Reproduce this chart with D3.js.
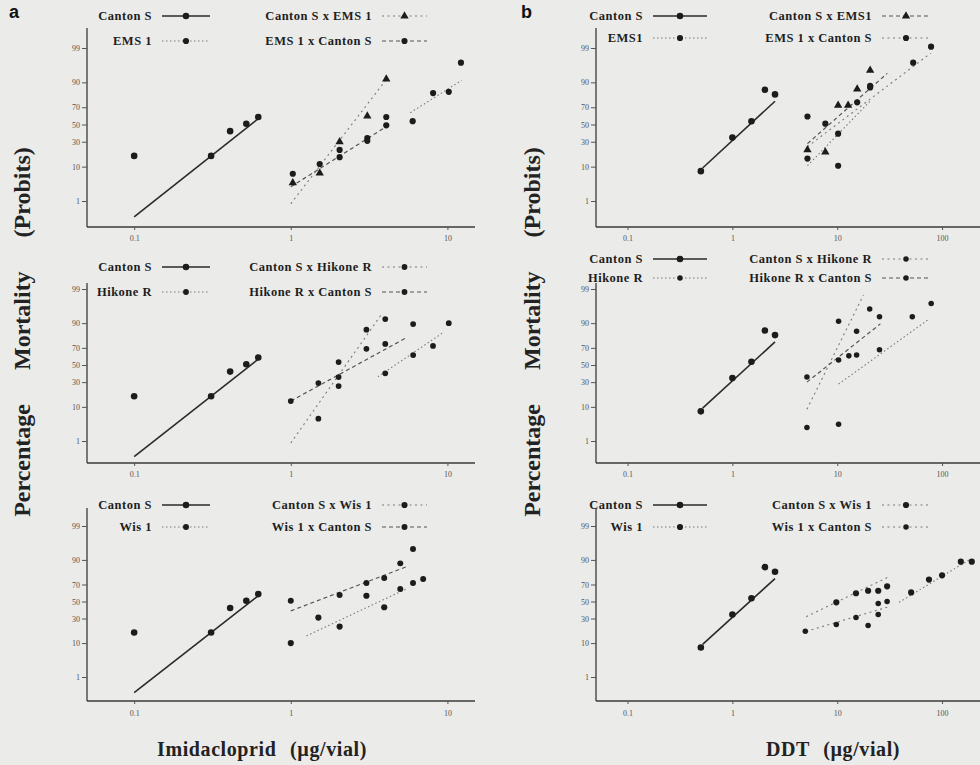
<!DOCTYPE html>
<html>
<head>
<meta charset="utf-8">
<script src="https://cdn.jsdelivr.net/npm/d3@7"></script>
<style>
  html, body { margin: 0; padding: 0; background: #ebebe9; }
  svg { display: block; }
</style>
</head>
<body>
<svg id="fig" width="980" height="765"></svg>
<script>
// ---- tick values ----
const yTickValues = [1, 10, 30, 50, 70, 90, 99];
const xTicksImi = [0.1, 1, 10];
const xTicksDdt = [0.1, 1, 10, 100];

// ---- Imidacloprid: dose (µg/vial), mortality (%) ----
const cantonImi = [[0.1, 17], [0.31, 17], [0.41, 42], [0.52, 51], [0.62, 59]];
const cantonImiFit = [[0.1, 0.25], [0.62, 57]];

const ems1Imi = [[6.0, 54], [8.1, 83], [10.2, 84], [12.2, 97]];
const ems1ImiFit = [[5.8, 64], [12.3, 91]];
const cantonEmsImi = [[1.03, 3.8], [1.53, 7], [2.05, 30], [3.08, 60], [4.07, 91.6]];
const cantonEmsImiFit = [[1.0, 0.8], [4.1, 91.7]];
const emsCantonImi = [[1.03, 6.7], [1.53, 11.5], [2.05, 22], [2.05, 16], [3.08, 34], [3.08, 31], [4.07, 59], [4.07, 49]];
const emsCantonImiFit = [[1.0, 2.9], [4.2, 49]];

const hikoneImi = [[2.02, 35.6], [4.01, 40], [6.04, 62], [8.09, 72], [10.2, 90]];
const hikoneImiFit = [[3.6, 36], [9.4, 84]];
const cantonHikImi = [[1.5, 5], [2.02, 26], [3.04, 86], [4.01, 92]];
const cantonHikImiFit = [[1.0, 0.85], [3.8, 94]];
const hikCantonImi = [[1.0, 13.5], [1.5, 29], [2.02, 53.6], [3.04, 69], [4.01, 74], [6.04, 89.5]];
const hikCantonImiFit = [[1.0, 13.5], [5.5, 80]];

const wisImi = [[5.0, 65], [6.03, 71.5], [7.0, 75.5]];
const wisImiFit = [[1.26, 14.5], [5.45, 65]];
const cantonWisImi = [[1.0, 10], [1.5, 31], [2.05, 22], [3.04, 57], [3.95, 43]];
const wisCantonImi = [[1.0, 51], [2.05, 58], [3.04, 71.5], [3.95, 76.5], [5.0, 88], [6.03, 94.7]];
const wisCantonImiFit = [[1.0, 38.6], [5.45, 85.7]];

// ---- DDT: dose (µg/vial), mortality (%) ----
const cantonDdt = [[0.5, 7.8], [1.0, 34.5], [1.52, 54], [2.04, 85.5], [2.55, 82]];
const cantonDdtFit = [[0.52, 9.3], [2.55, 76]];

const ems1Ddt = [[5.2, 15], [10.2, 10.5], [20.6, 87]];
const ems1DdtFit = [[5.2, 10.5], [21, 77]];
const cantonEmsDdt = [[5.2, 22], [7.7, 20], [10.2, 72], [12.7, 72], [15.5, 86], [20.6, 95]];
const cantonEmsDdtFit = [[5.2, 28], [30, 94]];
const emsCantonDdt = [[5.2, 59.6], [7.7, 51], [10.2, 39], [15.5, 75], [20.6, 88], [53, 97], [78.5, 99.1]];
const emsCantonDdtFit = [[5.2, 25], [78, 98.5]];

const hikoneDdt = [[10.3, 3.5], [25.3, 68], [52, 93], [78.7, 97]];
const hikoneDdtFit = [[10.3, 28], [73, 91.6]];
const cantonHikDdt = [[5.14, 2.8], [10.3, 91], [15.3, 85], [20.4, 95.7]];
const cantonHikDdtFit = [[5.14, 8.8], [17.8, 98.4]];
const hikCantonDdt = [[5.14, 35.6], [10.3, 56], [12.9, 61], [15.3, 62], [25.3, 93]];
const hikCantonDdtFit = [[5.14, 30], [25.8, 89.6]];

const wisDdt = [[50.7, 61], [75, 75], [100, 79], [151, 89], [192, 89]];
const wisDdtFit = [[38.9, 49], [181, 90]];
const cantonWisDdt = [[9.8, 49], [15.1, 60], [19.7, 63], [24.6, 63], [29.9, 68]];
const cantonWisDdtFit = [[5.06, 32], [30, 77]];
const wisCantonDdt = [[4.96, 17.9], [9.8, 24], [15.1, 31], [19.7, 23], [24.6, 34.5], [24.6, 47.6], [29.9, 50]];
const wisCantonDdtFit = [[5.06, 17.9], [30, 43]];

// ---- inverse normal CDF (Acklam) used for the probit axis ----
function normInv(p) {
  const a = [-3.969683028665376e+01, 2.209460984245205e+02, -2.759285104469687e+02, 1.383577518672690e+02, -3.066479806614716e+01, 2.506628277459239e+00];
  const b = [-5.447609879822406e+01, 1.615858368580409e+02, -1.556989798598866e+02, 6.680131188771972e+01, -1.328068155288572e+01];
  const c = [-7.784894002430293e-03, -3.223964580411365e-01, -2.400758277161838e+00, -2.549732539343734e+00, 4.374664141464968e+00, 2.938163982698783e+00];
  const d = [7.784695709041462e-03, 3.224671290700398e-01, 2.445134137142996e+00, 3.754408661907416e+00];
  const pl = 0.02425, ph = 1 - pl;
  let q, r;
  if (p < pl) {
    q = Math.sqrt(-2 * Math.log(p));
    return (((((c[0]*q+c[1])*q+c[2])*q+c[3])*q+c[4])*q+c[5]) / ((((d[0]*q+d[1])*q+d[2])*q+d[3])*q+1);
  }
  if (p <= ph) {
    q = p - 0.5; r = q * q;
    return (((((a[0]*r+a[1])*r+a[2])*r+a[3])*r+a[4])*r+a[5])*q / (((((b[0]*r+b[1])*r+b[2])*r+b[3])*r+b[4])*r+1);
  }
  q = Math.sqrt(-2 * Math.log(1 - p));
  return -(((((c[0]*q+c[1])*q+c[2])*q+c[3])*q+c[4])*q+c[5]) / ((((d[0]*q+d[1])*q+d[2])*q+d[3])*q+1);
}

// percent -> pixel, linear in probit units; exposes copy/range so d3.axis can use it
function probitScale(y1, y99) {
  const z = d3.scaleLinear().domain([normInv(0.01), normInv(0.99)]).range([y1, y99]);
  const s = p => z(normInv(p / 100));
  s.copy = () => probitScale(y1, y99);
  s.range = () => z.range();
  s.domain = () => [1, 99];
  return s;
}

// ---- line / marker styles ----
const styles = {
  canton: { stroke: '#2a2a2a', width: 1.6, dash: null },
  parent: { stroke: '#7a7a7a', width: 1.1, dash: '1.5,2.5' },
  crossA: { stroke: '#7a7a7a', width: 1.1, dash: '2,3.5' },
  crossB: { stroke: '#555', width: 1.2, dash: '4,3' }
};

// ---- layout ----
const columns = [
  { left: 87, right: 475, xDomain: [0.05, 15], xTicks: xTicksImi, letter: 'a', letterX: 9,
    legL: 152, lineL: [162, 210], legR: 372, lineR: [382, 427] },
  { left: 596, right: 980, xDomain: [0.05, 230], xTicks: xTicksDdt, letter: 'b', letterX: 521,
    legL: 643, lineL: [653, 707], legR: 872, lineR: [882, 930] }
];
const rows = [
  { top: 28, bottom: 227, y1: 201, y99: 48, tickLabelY: 241 },
  { top: 283, bottom: 463, y1: 441, y99: 289, tickLabelY: 477 },
  { top: 508, bottom: 701, y1: 677, y99: 526, tickLabelY: 716 }
];

const panels = [
  { col: 0, row: 0, legY: [16, 41], series: [
    { name: 'Canton S', pts: cantonImi, fit: cantonImiFit, style: 'canton', sym: d3.symbolCircle, size: 34, leg: [0, 0] },
    { name: 'EMS 1', pts: ems1Imi, fit: ems1ImiFit, style: 'parent', sym: d3.symbolCircle, size: 30, leg: [0, 1] },
    { name: 'Canton S x EMS 1', pts: cantonEmsImi, fit: cantonEmsImiFit, style: 'crossA', sym: d3.symbolTriangle, size: 30, leg: [1, 0] },
    { name: 'EMS 1 x Canton S', pts: emsCantonImi, fit: emsCantonImiFit, style: 'crossB', sym: d3.symbolCircle, size: 30, leg: [1, 1] }
  ]},
  { col: 1, row: 0, legY: [16, 38], series: [
    { name: 'Canton S', pts: cantonDdt, fit: cantonDdtFit, style: 'canton', sym: d3.symbolCircle, size: 34, leg: [0, 0] },
    { name: 'EMS1', pts: ems1Ddt, fit: ems1DdtFit, style: 'parent', sym: d3.symbolCircle, size: 30, leg: [0, 1] },
    { name: 'Canton S x EMS1', pts: cantonEmsDdt, fit: cantonEmsDdtFit, style: 'crossB', sym: d3.symbolTriangle, size: 30, leg: [1, 0] },
    { name: 'EMS 1 x Canton S', pts: emsCantonDdt, fit: emsCantonDdtFit, style: 'crossA', sym: d3.symbolCircle, size: 30, leg: [1, 1] }
  ]},
  { col: 0, row: 1, legY: [267, 292], series: [
    { name: 'Canton S', pts: cantonImi, fit: cantonImiFit, style: 'canton', sym: d3.symbolCircle, size: 34, leg: [0, 0] },
    { name: 'Hikone R', pts: hikoneImi, fit: hikoneImiFit, style: 'parent', sym: d3.symbolCircle, size: 26, leg: [0, 1] },
    { name: 'Canton S x Hikone R', pts: cantonHikImi, fit: cantonHikImiFit, style: 'crossA', sym: d3.symbolCircle, size: 26, leg: [1, 0] },
    { name: 'Hikone R x Canton S', pts: hikCantonImi, fit: hikCantonImiFit, style: 'crossB', sym: d3.symbolCircle, size: 26, leg: [1, 1] }
  ]},
  { col: 1, row: 1, legY: [259, 278], series: [
    { name: 'Canton S', pts: cantonDdt, fit: cantonDdtFit, style: 'canton', sym: d3.symbolCircle, size: 34, leg: [0, 0] },
    { name: 'Hikone R', pts: hikoneDdt, fit: hikoneDdtFit, style: 'parent', sym: d3.symbolCircle, size: 24, leg: [0, 1] },
    { name: 'Canton S x Hikone R', pts: cantonHikDdt, fit: cantonHikDdtFit, style: 'crossA', sym: d3.symbolCircle, size: 24, leg: [1, 0] },
    { name: 'Hikone R x Canton S', pts: hikCantonDdt, fit: hikCantonDdtFit, style: 'crossB', sym: d3.symbolCircle, size: 24, leg: [1, 1] }
  ]},
  { col: 0, row: 2, legY: [505, 527], series: [
    { name: 'Canton S', pts: cantonImi, fit: cantonImiFit, style: 'canton', sym: d3.symbolCircle, size: 34, leg: [0, 0] },
    { name: 'Wis 1', pts: wisImi, fit: wisImiFit, style: 'parent', sym: d3.symbolCircle, size: 28, leg: [0, 1] },
    { name: 'Canton S x Wis 1', pts: cantonWisImi, fit: null, style: 'crossA', sym: d3.symbolCircle, size: 30, leg: [1, 0] },
    { name: 'Wis 1 x Canton S', pts: wisCantonImi, fit: wisCantonImiFit, style: 'crossB', sym: d3.symbolCircle, size: 28, leg: [1, 1] }
  ]},
  { col: 1, row: 2, legY: [505, 527], series: [
    { name: 'Canton S', pts: cantonDdt, fit: cantonDdtFit, style: 'canton', sym: d3.symbolCircle, size: 34, leg: [0, 0] },
    { name: 'Wis 1', pts: wisDdt, fit: wisDdtFit, style: 'parent', sym: d3.symbolCircle, size: 30, leg: [0, 1] },
    { name: 'Canton S x Wis 1', pts: cantonWisDdt, fit: cantonWisDdtFit, style: 'crossA', sym: d3.symbolCircle, size: 30, leg: [1, 0] },
    { name: 'Wis 1 x Canton S', pts: wisCantonDdt, fit: wisCantonDdtFit, style: 'crossA', sym: d3.symbolCircle, size: 24, leg: [1, 1] }
  ]}
];

const svg = d3.select('#fig');
const ink = '#1e1e1e';
const serif = '"Liberation Serif", "DejaVu Serif", serif';

function applyStroke(sel, st) {
  sel.attr('fill', 'none').attr('stroke', st.stroke).attr('stroke-width', st.width)
     .attr('stroke-dasharray', st.dash);
}

panels.forEach(pn => {
  const col = columns[pn.col], row = rows[pn.row];
  const x = d3.scaleLog().domain(col.xDomain).range([col.left, col.right]);
  const y = probitScale(row.y1, row.y99);
  const g = svg.append('g');

  // axis lines
  g.append('line').attr('x1', col.left).attr('x2', col.left).attr('y1', row.top).attr('y2', row.bottom)
    .attr('stroke', '#3a3a3a').attr('stroke-width', 1.3);
  g.append('line').attr('x1', col.left).attr('x2', col.right).attr('y1', row.bottom).attr('y2', row.bottom)
    .attr('stroke', '#3a3a3a').attr('stroke-width', 1.5);

  // probit y axis
  const ya = d3.axisLeft(y).tickValues(yTickValues).tickFormat(d3.format('d')).tickSize(5).tickPadding(2);
  const yg = g.append('g').attr('transform', `translate(${col.left},0)`).call(ya);
  yg.select('.domain').remove();
  yg.selectAll('line').attr('stroke', '#555');
  yg.selectAll('text').attr('font-family', serif).attr('font-size', 8).attr('fill', '#555');

  // log x axis
  const xa = d3.axisBottom(x).tickValues(col.xTicks).tickFormat(d => String(d)).tickSize(3)
    .tickPadding(row.tickLabelY - row.bottom - 9);
  const xg = g.append('g').attr('transform', `translate(0,${row.bottom})`).call(xa);
  xg.select('.domain').remove();
  xg.selectAll('line').attr('stroke', '#555');
  xg.selectAll('text').attr('font-family', serif).attr('font-size', 8).attr('fill', '#555');

  // fitted probit lines
  const line = d3.line().x(d => x(d[0])).y(d => y(d[1]));
  pn.series.forEach(s => {
    if (s.fit) g.append('path').datum(s.fit).attr('d', line).call(applyStroke, styles[s.style]);
  });

  // observed points
  pn.series.forEach(s => {
    g.append('g').selectAll('path').data(s.pts).join('path')
      .attr('transform', d => `translate(${x(d[0])},${y(d[1])})`)
      .attr('d', d3.symbol(s.sym, s.size))
      .attr('fill', '#1c1c1c');
  });

  // legend (two columns, two rows)
  pn.series.forEach(s => {
    const [c, r] = s.leg;
    const ly = pn.legY[r];
    const textX = c === 0 ? col.legL : col.legR;
    const seg = c === 0 ? col.lineL : col.lineR;
    g.append('text').attr('x', textX).attr('y', ly + 4).attr('text-anchor', 'end')
      .attr('font-family', serif).attr('font-weight', 'bold').attr('font-size', 12.5)
      .attr('fill', ink).attr('letter-spacing', 0.5).text(s.name);
    g.append('line').attr('x1', seg[0]).attr('x2', seg[1]).attr('y1', ly).attr('y2', ly)
      .call(applyStroke, styles[s.style]);
    g.append('path').attr('transform', `translate(${(seg[0] + seg[1]) / 2},${ly})`)
      .attr('d', d3.symbol(s.sym, s.size)).attr('fill', '#1c1c1c');
  });
});

// panel letters
columns.forEach(col => {
  svg.append('text').attr('x', col.letterX).attr('y', 18)
    .attr('font-family', '"Liberation Sans", Arial, sans-serif').attr('font-weight', 'bold')
    .attr('font-size', 18).attr('fill', '#111').text(col.letter);
});

// axis titles
[{ x: 22, text: 'Percentage Mortality (Probits)' },
 { x: 532, text: 'Percentage Mortality (Probits)' }].forEach(t => {
  svg.append('text').attr('transform', `translate(${t.x},332) rotate(-90)`)
    .attr('text-anchor', 'middle').attr('dy', '0.35em')
    .attr('font-family', serif).attr('font-weight', 'bold').attr('font-size', 24)
    .attr('word-spacing', 28).attr('fill', '#222').text(t.text);
});
[{ x: 262, text: 'Imidacloprid (µg/vial)' },
 { x: 833, text: 'DDT (µg/vial)' }].forEach(t => {
  svg.append('text').attr('x', t.x).attr('y', 756).attr('text-anchor', 'middle')
    .attr('font-family', serif).attr('font-weight', 'bold').attr('font-size', 20)
    .attr('fill', '#222').attr('letter-spacing', 0.6).attr('word-spacing', 8).text(t.text);
});
</script>
</body>
</html>
